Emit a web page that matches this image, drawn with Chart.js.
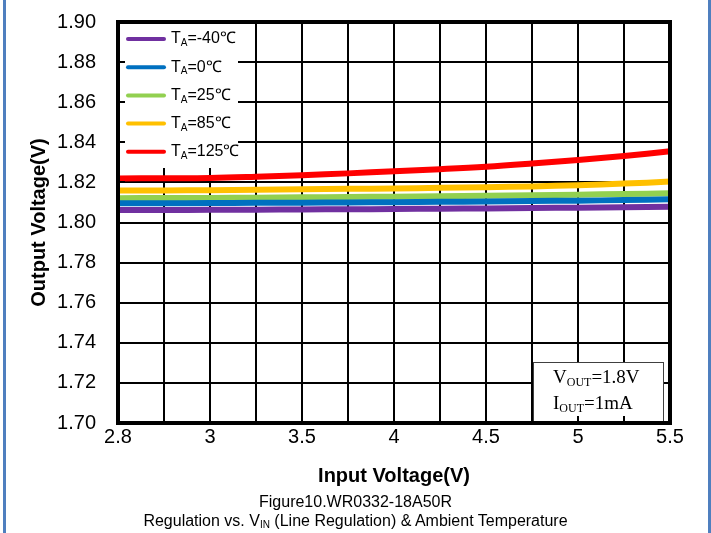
<!DOCTYPE html>
<html>
<head>
<meta charset="utf-8">
<script src="https://cdn.jsdelivr.net/npm/chart.js"></script>
<style>
  html, body { margin: 0; padding: 0; background: #fff; }
  #wrap { position: relative; width: 711px; height: 533px; overflow: hidden; }
  #chart { position: absolute; left: 0; top: 0; }
  .side { position: absolute; top: 0; width: 3px; height: 533px; background: #4f7fbf; }
  #caption {
    position: absolute; left: 0; top: 492px; width: 711px;
    text-align: center; font: 16px "Liberation Sans", Arial, sans-serif;
    line-height: 19px; color: #000;
  }
  #caption sub { font-size: 10px; vertical-align: baseline; position: relative; top: 2px; }
</style>
</head>
<body>
<div id="wrap">
  <canvas id="chart" width="711" height="533"></canvas>
  <div class="side" style="left:3px"></div>
  <div class="side" style="left:708px"></div>
  <div id="caption">Figure10.WR0332-18A50R<br>Regulation vs. V<sub>IN</sub> (Line Regulation) &amp; Ambient Temperature</div>
</div>
<script>
// x categories (Excel style category axis), only every other one is labelled
const inputVoltage = ["2.8", "2.9", "3", "3.25", "3.5", "3.75", "4", "4.25", "4.5", "4.75", "5", "5.25", "5.5"];
const shownTicks = ["2.8", "3", "3.5", "4", "4.5", "5", "5.5"];

// output voltage per ambient temperature
const voutM40 = [1.8062, 1.8062, 1.8063, 1.8064, 1.8065, 1.8066, 1.8067, 1.8069, 1.8070, 1.8072, 1.8074, 1.8076, 1.8079];
const vout0   = [1.8096, 1.8096, 1.8097, 1.8098, 1.8099, 1.8100, 1.8101, 1.8103, 1.8105, 1.8107, 1.8109, 1.8112, 1.8116];
const vout25  = [1.8121, 1.8122, 1.8122, 1.8124, 1.8126, 1.8127, 1.8129, 1.8131, 1.8133, 1.8136, 1.8139, 1.8142, 1.8146];
const vout85  = [1.8159, 1.8160, 1.8161, 1.8163, 1.8166, 1.8168, 1.8170, 1.8173, 1.8176, 1.8180, 1.8186, 1.8194, 1.8204];
const vout125 = [1.8220, 1.8221, 1.8222, 1.8228, 1.8236, 1.8245, 1.8256, 1.8266, 1.8278, 1.8294, 1.8312, 1.8332, 1.8355];

const tempLabels = ["-40℃", "0℃", "25℃", "85℃", "125℃"];
const seriesColors = ["#7030a0", "#0070c0", "#92d050", "#ffc000", "#ff0000"];

const yMin = 1.70, yMax = 1.90, yStep = 0.02;

const FONT = '"Liberation Sans", Arial, sans-serif';
const SERIF = '"Liberation Serif", "Times New Roman", serif';

// draws "main" + subscript + "rest" starting at x, vertical middle at y
function subText(ctx, x, y, main, sub, rest, size, family) {
  ctx.textBaseline = "middle";
  ctx.textAlign = "left";
  ctx.font = size + "px " + family;
  ctx.fillText(main, x, y);
  x += ctx.measureText(main).width;
  const subSize = Math.round(size * 0.62);
  ctx.font = subSize + "px " + family;
  ctx.fillText(sub, x, y + size * 0.28);
  x += ctx.measureText(sub).width;
  ctx.font = size + "px " + family;
  ctx.fillText(rest, x, y);
}

const overlay = {
  id: "overlay",
  afterDatasetsDraw(chart) {
    const { ctx, chartArea: a, scales } = chart;
    ctx.save();

    // legend box
    ctx.fillStyle = "#fff";
    ctx.fillRect(a.left, a.top, 120, 146);
    chart.data.datasets.forEach((ds, i) => {
      const cy = a.top + 17 + i * 28.2;
      ctx.strokeStyle = ds.borderColor;
      ctx.lineWidth = 4;
      ctx.lineCap = "round";
      ctx.beginPath();
      ctx.moveTo(a.left + 10, cy);
      ctx.lineTo(a.left + 46, cy);
      ctx.stroke();
      ctx.fillStyle = "#000";
      subText(ctx, a.left + 53, cy, "T", "A", "=" + tempLabels[i], 16, FONT);
    });

    // condition box
    const bx = 533, by = 362, bw = a.right - 7 - bx, bh = a.bottom - by;
    ctx.fillStyle = "#fff";
    ctx.fillRect(bx, by, bw, bh);
    ctx.strokeStyle = "#404040";
    ctx.lineWidth = 1;
    ctx.strokeRect(bx + 0.5, by + 0.5, bw, bh);
    ctx.fillStyle = "#000";
    subText(ctx, bx + 20, by + 16, "V", "OUT", "=1.8V", 19, SERIF);
    subText(ctx, bx + 20, by + 42, "I", "OUT", "=1mA", 19, SERIF);

    // inside tick marks
    ctx.strokeStyle = "#000";
    ctx.lineWidth = 2;
    ctx.lineCap = "butt";
    scales.x.ticks.forEach((t, i) => {
      const px = Math.round(scales.x.getPixelForTick(i));
      ctx.beginPath();
      ctx.moveTo(px, a.bottom);
      ctx.lineTo(px, a.bottom - 7);
      ctx.stroke();
    });
    scales.y.ticks.forEach((t, i) => {
      const py = Math.round(scales.y.getPixelForTick(i));
      ctx.beginPath();
      ctx.moveTo(a.left, py);
      ctx.lineTo(a.left + 7, py);
      ctx.stroke();
    });

    // plot frame
    ctx.lineWidth = 4;
    ctx.strokeRect(a.left, a.top, a.right - a.left, a.bottom - a.top);
    ctx.restore();
  }
};

const datasets = [voutM40, vout0, vout25, vout85, vout125].map((vals, i) => ({
  label: "TA=" + tempLabels[i],
  data: vals,
  borderColor: seriesColors[i],
  backgroundColor: seriesColors[i],
  borderWidth: 6,
  pointRadius: 0,
  tension: 0.4,
  fill: false
}));

new Chart(document.getElementById("chart"), {
  type: "line",
  data: { labels: inputVoltage, datasets },
  plugins: [overlay],
  options: {
    responsive: false,
    animation: false,
    layout: { padding: { left: 0, top: 22, right: 41, bottom: 0 } },
    plugins: { legend: { display: false }, tooltip: { enabled: false } },
    scales: {
      x: {
        type: "category",
        offset: false,
        grid: { color: "#000", lineWidth: 2, drawTicks: false },
        border: { display: false },
        ticks: {
          autoSkip: false,
          maxRotation: 0,
          padding: 2,
          color: "#000",
          font: { family: FONT, size: 20 },
          callback(v, i) {
            const lab = inputVoltage[i];
            return shownTicks.includes(lab) ? lab : "";
          }
        },
        title: {
          display: true,
          text: "Input Voltage(V)",
          color: "#000",
          font: { family: FONT, size: 20, weight: "bold" },
          padding: { top: 0, bottom: 45 }
        },
        afterFit(s) { s.height = 110; }
      },
      y: {
        min: yMin,
        max: yMax,
        grid: { color: "#000", lineWidth: 2, drawTicks: true, tickLength: 19, tickColor: "rgba(0,0,0,0)" },
        border: { display: false },
        ticks: {
          stepSize: yStep,
          padding: 3,
          color: "#000",
          font: { family: FONT, size: 20 },
          callback: v => v.toFixed(2)
        },
        title: {
          display: true,
          text: "Output Voltage(V)",
          color: "#000",
          font: { family: FONT, size: 20, weight: "bold" },
          padding: { top: 27, bottom: 0 }
        },
        afterFit(s) { s.width = 118; }
      }
    }
  }
});
</script>
</body>
</html>
